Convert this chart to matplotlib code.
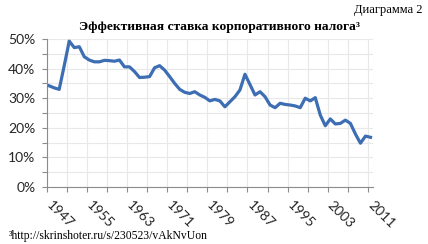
import numpy as np
import matplotlib
matplotlib.use("Agg")
import matplotlib.pyplot as plt
from matplotlib.ticker import FuncFormatter
from matplotlib.transforms import blended_transform_factory

years = list(range(1947, 2012))
rate = [34.2, 33.5, 33.0, 41.0, 49.3, 47.1, 47.4, 44.0, 42.9, 42.3,
        42.3, 42.8, 42.7, 42.5, 42.9, 40.6, 40.6, 39.0, 37.0, 37.1,
        37.3, 40.3, 41.0, 39.5, 37.3, 35.0, 33.0, 32.0, 31.6, 32.2,
        31.1, 30.3, 29.1, 29.6, 29.1, 27.1, 28.8, 30.5, 32.8, 38.1,
        34.6, 31.1, 32.2, 30.5, 27.7, 26.8, 28.3, 27.9, 27.7, 27.4,
        26.8, 30.0, 29.1, 30.2, 24.3, 20.7, 23.0, 21.3, 21.5, 22.6,
        21.5, 17.9, 14.8, 17.2, 16.8]
label_years = list(range(1947, 2012, 8))

title = "Эффективная ставка корпоративного налога³"
caption = "Диаграмма 2"
footnote = "³http://skrinshoter.ru/s/230523/vAkNvUon"

fig = plt.figure(figsize=(4.28, 2.44), dpi=100)
ax = fig.add_axes([0.109, 0.2336, 0.7625, 0.6064])

ax.plot(years, rate, color="#3D6DB3", lw=2.3, solid_joinstyle="round", zorder=3)

ax.set_xlim(years[0] - 0.5, years[-1] + 0.5)
ax.set_ylim(0, 50)

grid_c = "#E8E8E8"
axis_c = "#8C8C8C"
ax.set_yticks(np.arange(0, 51, 10))
ax.set_yticks(np.arange(5, 50, 10), minor=True)
ax.set_xticks(np.arange(years[0] - 0.5, years[-1] + 1, 4))
ax.yaxis.set_major_formatter(FuncFormatter(lambda v, p: f"{v:.0f}%"))
ax.set_xticklabels([])
ax.grid(True, which="both", color=grid_c, lw=0.8, zorder=0)
ax.axvline(years[-1] + 0.5, color=grid_c, lw=0.8, zorder=0)
ax.tick_params(axis="both", which="both", direction="out", length=3.5,
               color=axis_c, width=0.8)
ax.tick_params(axis="y", labelsize=10, labelcolor="#262626", pad=4.5)
for lab in ax.get_yticklabels():
    lab.set_fontfamily("Lato")
for s in ["top", "right"]:
    ax.spines[s].set_visible(False)
for s in ["left", "bottom"]:
    ax.spines[s].set_color(axis_c)
    ax.spines[s].set_linewidth(0.8)

tr = blended_transform_factory(ax.transData, ax.transAxes)
for y in label_years:
    ax.text(y - 1.0, -0.08, str(y), transform=tr, rotation=-45,
            ha="left", va="top", fontsize=10, family="Lato", color="#262626")

fig.text(220 / 428, 1 - 27 / 244, title, ha="center", va="center",
         fontsize=9.7, fontweight="bold", family="Liberation Serif")
fig.text(423 / 428, 1 - 10 / 244, caption, ha="right", va="center",
         fontsize=9, family="Liberation Serif")
fig.text(9 / 428, 1 - 236 / 244, footnote, ha="left", va="center",
         fontsize=8.4, family="Liberation Serif")

fig.savefig("out.png", dpi=100)
